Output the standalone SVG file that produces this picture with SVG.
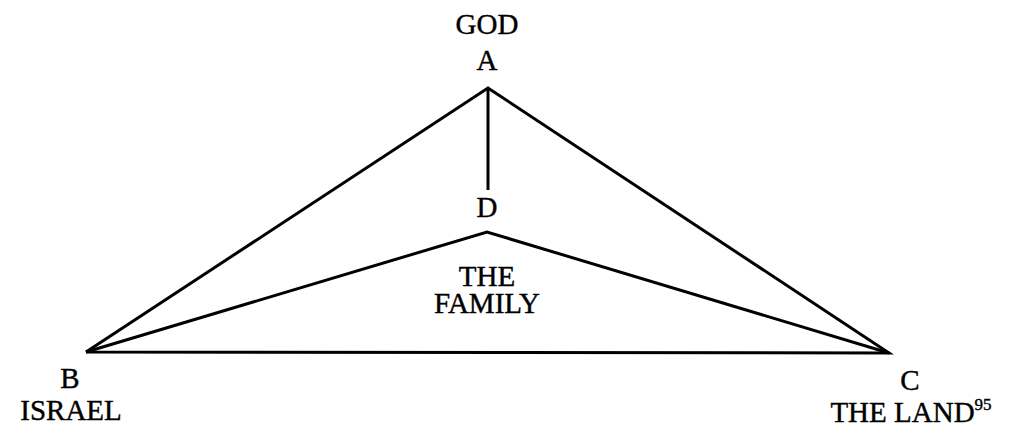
<svg xmlns="http://www.w3.org/2000/svg" width="1011" height="426" viewBox="0 0 1011 426">
<style>
text{font-family:"Liberation Serif","Times New Roman",serif;font-size:29px;fill:#000;stroke:#000;stroke-width:0.4;text-anchor:middle}
.ln{stroke:#000;stroke-width:3;fill:none;stroke-linejoin:miter}
</style>
<rect width="1011" height="426" fill="#fff"/>
<g id="connectors">
<polyline class="ln" points="86,352 488,88 889,353 86,352"/>
<polyline class="ln" points="86,352 487,232 889,353"/>
<line class="ln" x1="488" y1="88" x2="488" y2="190"/>
</g>
<g id="node-A"><text x="487" y="34">GOD</text><text x="487" y="70">A</text></g>
<g id="node-D"><text x="487" y="217">D</text></g>
<g id="node-family"><text x="487" y="286">THE</text><text x="487" y="313">FAMILY</text></g>
<g id="node-B"><text x="70" y="388">B</text><text x="71" y="420">ISRAEL</text></g>
<g id="node-C"><text x="910" y="390">C</text><text x="911" y="422">THE LAND<tspan font-size="17" dy="-12">95</tspan></text></g>
</svg>
